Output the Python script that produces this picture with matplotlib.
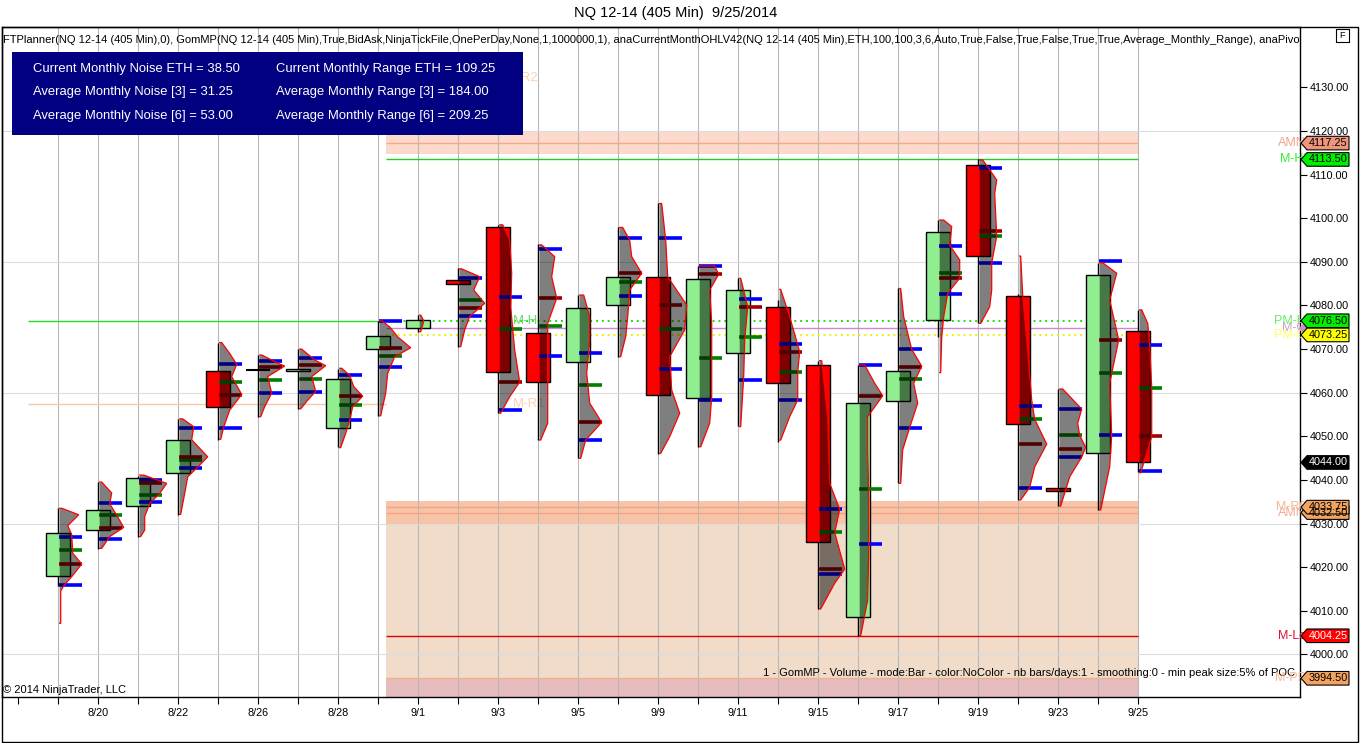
import numpy as np
import matplotlib
matplotlib.use('Agg')
import matplotlib.pyplot as plt
from matplotlib.patches import Rectangle, Polygon
from matplotlib.ticker import FormatStrFormatter

plt.rcParams['font.family'] = ['Liberation Sans', 'DejaVu Sans']

# ---------------- data ----------------
dates = ['8/19', '8/20', '8/21', '8/22', '8/25', '8/26', '8/27', '8/28', '8/29', '9/1',
         '9/2', '9/3', '9/4', '9/5', '9/8', '9/9', '9/10', '9/11', '9/12', '9/15',
         '9/16', '9/17', '9/18', '9/19', '9/22', '9/23', '9/24', '9/25']
opens = [4018.0, 4028.5, 4034.0, 4041.5, 4065.0, 4065.25, 4065.0, 4052.0, 4070.0, 4074.75,
         4085.75, 4098.0, 4073.75, 4067.0, 4080.0, 4086.5, 4058.75, 4069.0, 4079.75, 4066.25,
         4008.5, 4058.0, 4076.75, 4112.25, 4082.25, 4038.25, 4046.25, 4074.25]
closes = [4027.75, 4033.0, 4040.5, 4049.25, 4056.75, 4065.25, 4065.5, 4063.25, 4073.0, 4076.75,
          4085.0, 4064.75, 4062.5, 4079.5, 4086.5, 4059.5, 4086.0, 4083.5, 4062.25, 4025.75,
          4057.75, 4065.0, 4096.75, 4091.25, 4052.75, 4037.5, 4087.0, 4044.0]
highs = [4033.5, 4039.5, 4041.0, 4054.0, 4071.5, 4068.75, 4070.0, 4065.5, 4076.5, 4077.75,
         4088.5, 4098.5, 4094.0, 4082.5, 4098.0, 4103.5, 4089.0, 4086.25, 4081.25, 4067.25,
         4066.25, 4084.0, 4099.5, 4113.5, 4082.75, 4060.75, 4089.75, 4079.0]
lows = [4015.75, 4024.25, 4027.0, 4032.0, 4049.25, 4054.5, 4056.25, 4047.5, 4054.75, 4074.0,
        4070.5, 4055.25, 4049.25, 4045.0, 4068.25, 4046.0, 4047.5, 4052.25, 4048.75, 4010.5,
        4004.25, 4039.25, 4072.75, 4076.0, 4035.5, 4034.0, 4033.0, 4041.75]

nan = float('nan')
va_high = [4027.0, 4034.75, 4040.0, 4052.0, 4066.5, 4067.25, 4068.0, 4064.0, 4076.5, nan,
           4086.25, 4082.0, 4093.0, 4069.0, 4095.5, 4095.5, 4089.0, 4081.5, 4071.25, 4033.25,
           4066.25, 4070.0, 4093.75, 4111.5, 4057.0, 4056.25, 4090.25, 4071.0]
va_low = [4016.0, 4026.5, 4035.0, 4042.75, 4052.0, 4060.0, 4060.25, 4053.75, 4066.0, nan,
          4077.5, 4056.0, 4068.5, 4049.25, 4082.25, 4065.5, 4058.25, 4063.0, 4058.25, 4018.5,
          4025.25, 4052.0, 4082.75, 4089.75, 4038.25, 4045.25, 4050.25, 4042.0]
poc = [4020.75, 4029.0, 4039.25, 4045.25, 4059.5, 4066.0, 4066.25, 4059.25, 4070.25, nan,
       4079.5, 4062.5, 4081.75, 4053.25, 4087.5, 4080.0, 4087.25, 4079.75, 4069.25, 4019.5,
       4059.25, 4066.0, 4086.25, 4097.0, 4048.25, 4047.0, 4072.0, 4050.0]
vwap = [4024.0, 4032.0, 4036.5, 4044.5, 4062.5, 4063.0, 4063.25, 4057.25, 4068.5, nan,
        4081.25, 4074.5, 4075.25, 4061.75, 4085.5, 4074.5, 4068.0, 4072.75, 4064.75, 4028.0,
        4038.0, 4063.25, 4087.5, 4096.0, 4054.0, 4050.25, 4064.5, 4061.0]

prof_price = [
    [4033.5, 4032, 4029.5, 4027.5, 4023.2, 4020.7, 4017.8, 4015.7, 4014.5, 4007.1],
    [4039.5, 4037, 4034.5, 4032.3, 4029.1, 4027, 4024.3],
    [4041.1, 4039.2, 4036.9, 4034.6, 4031.6, 4028.5, 4027],
    [4054, 4052.2, 4049.2, 4045.3, 4043.4, 4040.7, 4036.9, 4032.1],
    [4071.5, 4069, 4066.5, 4063.7, 4059.6, 4056, 4052.1, 4049.3],
    [4068.65, 4066.8, 4066.1, 4063.7, 4059.9, 4056.8, 4054.5],
    [4070, 4067.5, 4066.2, 4063.7, 4060.3, 4058.3, 4056.3],
    [4065.6, 4064, 4061.4, 4059.2, 4056.8, 4053.7, 4050.7, 4047.4],
    [4076.5, 4075.1, 4072.8, 4070.3, 4068.25, 4064.45, 4059.9, 4054.7],
    [4077.8, 4076.5, 4075.5, 4074],
    [4088.4, 4086.6, 4083.55, 4080.5, 4077.5, 4074.4, 4070.55],
    [4098.5, 4095, 4087.4, 4079.6, 4069.8, 4062.45, 4059.1, 4055.3],
    [4093.9, 4091.2, 4086.6, 4081.65, 4075.9, 4068.4, 4060.6, 4053, 4049.15],
    [4082.4, 4077.4, 4072.1, 4064.45, 4057.6, 4053.2, 4049.15, 4044.95],
    [4097.9, 4095, 4091.2, 4087.4, 4083.55, 4077.4, 4072.85, 4068.25],
    [4103.4, 4095, 4086.6, 4080.1, 4074.4, 4068.25, 4060.6, 4055.3, 4049.9, 4046.1],
    [4089.05, 4087.15, 4083.55, 4075.9, 4068.1, 4059.1, 4053, 4047.6],
    [4086.25, 4079.7, 4072.1, 4063.7, 4052.2],
    [4083.7, 4077.4, 4069.4, 4064.7, 4058.3, 4054.5, 4049.15],
    [4067.35, 4054.5, 4039.2, 4033.25, 4027.9, 4019.55, 4016.3, 4010.4],
    [4066.35, 4062.15, 4059.3, 4054.5, 4046.9, 4035.4, 4023.9, 4012.45, 4004.3],
    [4083.9, 4077.4, 4069.95, 4066.1, 4062.15, 4057.6, 4052.05, 4046.9, 4039.2],
    [4099.6, 4098.1, 4093.8, 4090.45, 4086.3, 4082.8, 4077.4, 4072.7, 4064.6],
    [4113.4, 4108.8, 4105.7, 4095.9, 4089.7, 4083.55, 4079.7, 4075.9],
    [4091.35, 4082.35, 4069.8, 4058.3, 4053.9, 4048.2, 4043, 4038.3, 4035.4],
    [4060.85, 4056.25, 4053, 4050.2, 4047.5, 4045.25, 4040.7, 4034],
    [4089.8, 4087.4, 4081.25, 4072.1, 4062.15, 4050.2, 4043, 4033.1],
    [4079, 4075.9, 4071, 4061.1, 4049.9, 4041.65],
]
prof_vol = [
    [2, 19, 8, 12, 13, 22, 12, 4, 1, 1],
    [2, 12, 10, 16, 24, 10, 2],
    [4, 27, 20, 10, 5, 5, 1],
    [3, 14, 12, 28, 20, 8, 5, 1],
    [2, 10, 17, 12, 22, 10, 4, 1],
    [2, 18, 25, 8, 12, 5, 1],
    [2, 15, 26, 12, 16, 8, 1],
    [2, 10, 14, 23, 13, 10, 6, 1],
    [2, 10, 18, 31, 15, 8, 6, 1],
    [1, 4, 3, 1],
    [2, 20, 14, 25, 10, 5, 1],
    [3, 10, 12, 11, 15, 20, 10, 1],
    [2, 15, 12, 17, 8, 8, 8, 8, 1],
    [4, 10, 10, 7, 10, 22, 6, 1],
    [3, 10, 12, 22, 10, 8, 6, 1],
    [2, 6, 8, 27, 25, 10, 12, 20, 10, 1],
    [15, 19, 10, 12, 12, 12, 10, 1],
    [1, 8, 5, 4, 1],
    [1, 10, 20, 18, 18, 10, 1],
    [2, 8, 10, 20, 15, 25, 15, 1],
    [5, 15, 23, 8, 8, 9, 9, 8, 1],
    [1, 4, 12, 22, 14, 18, 10, 3, 1],
    [4, 12, 10, 20, 20, 8, 4, 2, 1],
    [3, 17, 15, 17, 12, 12, 10, 1],
    [1, 3, 8, 12, 15, 27, 15, 10, 1],
    [3, 22, 18, 20, 26, 22, 10, 1],
    [3, 17, 10, 19, 10, 12, 10, 1],
    [2, 8, 10, 12, 12, 1],
]

# monthly levels
amn_band = (4114.75, 4119.75)
amn_hi = 4117.25
month_high = 4113.5
month_low = 4004.25
mr_band = (4030.0, 4035.25)
mr_levels = [4033.75, 4032.5]
month_pp = 3994.5
pm_high = 4076.5
month_open = 4074.9
pm_close = 4073.25
prev_r = 4057.35
last_price = 4044.0

info_left = ['Current Monthly Noise ETH = 38.50', 'Average Monthly Noise [3] = 31.25',
             'Average Monthly Noise [6] = 53.00']
info_right = ['Current Monthly Range ETH = 109.25', 'Average Monthly Range [3] = 184.00',
              'Average Monthly Range [6] = 209.25']

# ---------------- figure / layout ----------------
W, H = 1360, 743
fig = plt.figure(figsize=(W / 100, H / 100), dpi=100)
fig.patch.set_facecolor('white')


def fx(px):
    return px / W


def fy(py):
    return 1 - py / H


AX_L, AX_R, AX_T, AX_B = 2, 1300, 27, 697
ax = fig.add_axes([fx(AX_L), fy(AX_B), (AX_R - AX_L) / W, (AX_B - AX_T) / H])
X0_PX, STEP = 57.7, 40.0
PX_PER_PT, Y4000 = 4.36, 654.3
ax.set_xlim((AX_L - X0_PX) / STEP, (AX_R - X0_PX) / STEP)
ax.set_ylim(4000 + (Y4000 - AX_B) / PX_PER_PT, 4000 + (Y4000 - AX_T) / PX_PER_PT)
ymin, ymax = ax.get_ylim()


def xd(px):
    return (px - X0_PX) / STEP


PX = 1.0 / STEP  # one pixel in x data units
n = len(dates)

# grid
for i in range(n):
    ax.axvline(i, color='#b8b8b8', lw=0.8, zorder=1)
for p in [4000, 4030, 4060, 4090, 4120]:
    ax.axhline(p, color='#dcdcdc', lw=0.8, zorder=1)

# bands (current month)
bx0, bx1 = xd(386), n - 1
ax.fill_between([bx0, bx1], *amn_band, color='#fcd9ca', zorder=0.5, lw=0)
ax.hlines(amn_hi, bx0, bx1, color='#f4a890', lw=1, zorder=1.2)
ax.hlines(month_high, bx0, bx1, color='#22cc22', lw=1, zorder=1.2)
ax.fill_between([bx0, bx1], *mr_band, color='#f7c4aa', zorder=0.5, lw=0)
ax.fill_between([bx0, bx1], month_pp, mr_band[0], color='#f0dcc8', zorder=0.5, lw=0)
ax.fill_between([bx0, bx1], ymin, month_pp, color='#e6bcbe', zorder=0.5, lw=0)
ax.hlines(mr_levels, bx0, bx1, color='#f2a47e', lw=1, zorder=1.2)
ax.hlines(month_pp, bx0, bx1, color='#f0b08c', lw=1, zorder=1.2)
ax.hlines(month_low, bx0, bx1, color='#e00000', lw=1, zorder=1.2)

# previous month lines
lx0 = xd(28)
ax.hlines(pm_high, lx0, bx0, color='#22dd22', lw=1, zorder=1.2)
ax.hlines(prev_r, lx0, bx0, color='#f8c8a8', lw=1, zorder=1.2)
ax.hlines(pm_high, bx0, bx1, color='#22dd22', lw=1.4, linestyles=(0, (1, 2)), zorder=1.2)
ax.hlines(month_open, bx0, bx1, color='#cc88cc', lw=1, zorder=1.2)
ax.hlines(pm_close, bx0, bx1, color='#f0f000', lw=1.4, linestyles=(0, (1, 2)), zorder=1.2)
ax.text(xd(513), pm_high, 'M-Hi', color='#66dd66', fontsize=9.5, va='center', ha='left', zorder=1.3)
ax.text(xd(513), prev_r, 'M-R1', color='#f8d2b4', fontsize=9.5, va='center', ha='left', zorder=1.3)
ax.text(xd(538), 4132.2, 'M-R2', color='#f8d2b4', fontsize=9.5, va='center', ha='right', zorder=1.3)

# candles + profiles
BODY = 0.3
MLEN = 23 * PX
for i in range(n):
    o, h, l, c = opens[i], highs[i], lows[i], closes[i]
    ax.vlines(i, l, h, color='black', lw=1, zorder=2)
    if o == c:
        ax.hlines(o, i - BODY, i + BODY, color='black', lw=1.5, zorder=3)
    else:
        col = '#90ee90' if c > o else '#ff0000'
        ax.add_patch(Rectangle((i - BODY, min(o, c)), 2 * BODY, abs(c - o), facecolor=col,
                               edgecolor='black', lw=1, zorder=3))
    # markers (under profile so they darken inside it)
    x_a, x_b = i + 1 * PX, i + 1 * PX + MLEN
    for val, colr in [(va_high[i], '#0000ff'), (va_low[i], '#0000ff'),
                      (vwap[i], '#008000'), (poc[i], '#a00000')]:
        if not np.isnan(val):
            ax.hlines(val, x_a, x_b, color=colr, lw=2.6, zorder=4)
    # volume profile
    pp, vv = prof_price[i], prof_vol[i]
    x_base = i + 2 * PX
    outer = [(x_base + v * PX, p) for p, v in zip(pp, vv)]
    verts = [(x_base, pp[0])] + outer + [(x_base, pp[-1])]
    ax.add_patch(Polygon(verts, closed=True, facecolor=(0, 0, 0, 0.5), edgecolor='none', zorder=5))
    ox = [x_base] + [q[0] for q in outer] + [x_base]
    oy = [pp[0]] + [q[1] for q in outer] + [pp[-1]]
    ax.plot(ox, oy, color='#ff0000', lw=0.9, zorder=5.5, solid_joinstyle='miter')

# axes styling
for s in ax.spines.values():
    s.set_color('black')
    s.set_linewidth(1)
ax.yaxis.tick_right()
ax.set_yticks(np.arange(4000, 4131, 10))
ax.yaxis.set_major_formatter(FormatStrFormatter('%.2f'))
ax.tick_params(axis='y', direction='out', length=5, labelsize=7.8, pad=2, colors='black')
ticks = list(range(-1, n))
ax.set_xticks(ticks)
ax.set_xticklabels([dates[t] if (t >= 0 and t % 2 == 1) else '' for t in ticks])
ax.tick_params(axis='x', direction='out', length=5, labelsize=7.8, pad=3, colors='black')
ax.set_facecolor('white')

# info box
ax.add_patch(Rectangle((fx(12), fy(135)), fx(523) - fx(12), fy(52) - fy(135),
                       transform=fig.transFigure, facecolor='#000080', edgecolor='none', zorder=10))
for k, (tl, tr) in enumerate(zip(info_left, info_right)):
    yy = fy(69 + 23.5 * k)
    ax.text(fx(33), yy, tl, color='white', fontsize=9.35, va='center', ha='left',
            transform=fig.transFigure, zorder=11)
    ax.text(fx(276), yy, tr, color='white', fontsize=9.35, va='center', ha='left',
            transform=fig.transFigure, zorder=11)

# indicator line at top (clipped to plot area)
ind = ('FTPlanner(NQ 12-14 (405 Min),0), GomMP(NQ 12-14 (405 Min),True,BidAsk,NinjaTickFile,'
       'OnePerDay,None,1,1000000,1), anaCurrentMonthOHLV42(NQ 12-14 (405 Min),ETH,100,100,3,6,'
       'Auto,True,False,True,False,True,True,Average_Monthly_Range), anaPivotsMonthly(NQ 12-14 (405 Min))')
ax.text((3 - AX_L) / (AX_R - AX_L), (AX_B - 40) / (AX_B - AX_T), ind, fontsize=8.05, va='center',
        ha='left', transform=ax.transAxes, clip_on=True, zorder=11)

ax.text((1295 - AX_L) / (AX_R - AX_L), (AX_B - 673) / (AX_B - AX_T),
        '1 - GomMP - Volume - mode:Bar - color:NoColor - nb bars/days:1 - smoothing:0 - min peak size:5% of POC',
        fontsize=8, va='center', ha='right', transform=ax.transAxes, zorder=11)
ax.text((3 - AX_L) / (AX_R - AX_L), (AX_B - 690) / (AX_B - AX_T), '\u00a9 2014 NinjaTrader, LLC',
        fontsize=8, va='center', ha='left', transform=ax.transAxes, zorder=11)

# title
fig.text(fx(676), fy(13), 'NQ 12-14 (405 Min)  9/25/2014', ha='center', va='center', fontsize=10.5)

# outer frame
fig.add_artist(Rectangle((fx(2), fy(742)), fx(1358) - fx(2), fy(27) - fy(742),
                         transform=fig.transFigure, fill=False, edgecolor='black', lw=1))
# small "F" box
fig.add_artist(Rectangle((fx(1336), fy(42)), fx(1349) - fx(1336), fy(29) - fy(42),
                         transform=fig.transFigure, facecolor='white', edgecolor='black', lw=0.8))
fig.text(fx(1342.5), fy(35.5), 'F', ha='center', va='center', fontsize=6.5)

# right-side price markers
HALF = 6.8 / PX_PER_PT


def price_tag(price, text, bg, fg='black', name=None, name_color=None):
    if name:
        ax.text(xd(1306), price, name, ha='right', va='center', fontsize=9, color=name_color,
                clip_on=False, zorder=12)
    verts = [(xd(1301), price), (xd(1307), price + HALF), (xd(1349), price + HALF),
             (xd(1349), price - HALF), (xd(1307), price - HALF)]
    ax.add_patch(Polygon(verts, closed=True, facecolor=bg, edgecolor='black', lw=0.8,
                         clip_on=False, zorder=13))
    ax.text(xd(1328), price, text, ha='center', va='center', fontsize=7.8, color=fg,
            clip_on=False, zorder=14)


price_tag(amn_hi, '%.2f' % amn_hi, '#f0957a', name='AMN', name_color='#f4a090')
price_tag(month_high, '%.2f' % month_high, '#00ee00', name='M-Hi', name_color='#33ee33')
ax.text(xd(1306), month_open, 'M-O', ha='right', va='center', fontsize=9, color='#c8a0c8',
        clip_on=False, zorder=12)
price_tag(pm_high, '%.2f' % pm_high, '#00ee00', name='PM-H', name_color='#66ee66')
ax.plot([xd(1303)], [month_open], marker='D', ms=4, color='#c890c8', clip_on=False, zorder=12.5)
price_tag(pm_close, '%.2f' % pm_close, '#ffff00', name='PM-C', name_color='#ffff66')
price_tag(last_price, '%.2f' % last_price, '#000000', fg='white')
price_tag(mr_levels[1], '%.2f' % mr_levels[1], '#f4a460', name='AMN', name_color='#f4a890')
price_tag(mr_levels[0], '%.2f' % mr_levels[0], '#f4a460', name='M-R0', name_color='#f4b890')
price_tag(month_low, '%.2f' % month_low, '#ff0000', fg='white', name='M-Lo', name_color='#e01030')
price_tag(month_pp, '%.2f' % month_pp, '#f4a460', name='M-PP', name_color='#f4b890')

fig.savefig('out.png', dpi=100, facecolor='white')
